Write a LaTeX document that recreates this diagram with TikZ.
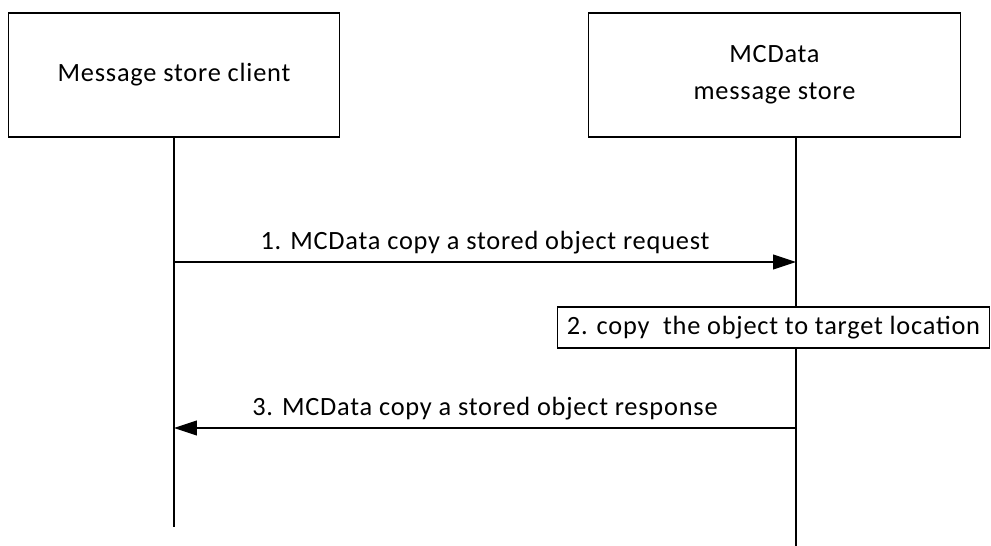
\documentclass[tikz,border=0pt]{standalone}
\usepackage{fontspec}
\setmainfont{Carlito}[LetterSpace=3]
\usetikzlibrary{arrows.meta, positioning}

\begin{document}
\begin{tikzpicture}[
  x=0.02cm, y=-0.02cm,
  every node/.style={font=\fontsize{15}{21}\selectfont},
  entity/.style={rectangle, draw, line width=0.6pt, minimum height=2.48cm, align=center},
  action/.style={rectangle, draw, fill=white, line width=0.6pt, minimum width=8.66cm,
                 minimum height=0.82cm, inner sep=0pt},
  lifeline/.style={line width=0.6pt},
  msg/.style={-{Triangle[length=0.46cm, width=0.3cm]}, line width=0.6pt}
]
  \useasboundingbox (0,0) rectangle (991,546);

  % Entities
  \node[entity, minimum width=6.64cm] (client) at (174,75) {Message store client};
  \node[entity, minimum width=7.46cm] (store) at (774.5,75) {MCData\\message store};

  % Lifelines
  \coordinate (clientTop) at (174,137);
  \coordinate (clientEnd) at (174,527);
  \coordinate (storeTop) at (796,137);
  \coordinate (storeEnd) at (796,546);
  \draw[lifeline] (clientTop) -- (clientEnd);
  \draw[lifeline] (storeTop) -- (storeEnd);

  % Message points
  \coordinate (reqFrom) at (174,262);
  \coordinate (reqTo) at (796,262);
  \coordinate (rspFrom) at (796,428);
  \coordinate (rspTo) at (174,428);

  % Messages
  \draw[msg] (reqFrom) -- node[above, inner sep=4pt] (reqLabel) {1. MCData copy a stored object request} (reqTo);
  \node[action] (copy) at (773.5,327.5) {2. copy \ the object to target location};
  \draw[msg] (rspFrom) -- node[above, inner sep=4pt] (rspLabel) {3. MCData copy a stored object response} (rspTo);
\end{tikzpicture}
\end{document}
